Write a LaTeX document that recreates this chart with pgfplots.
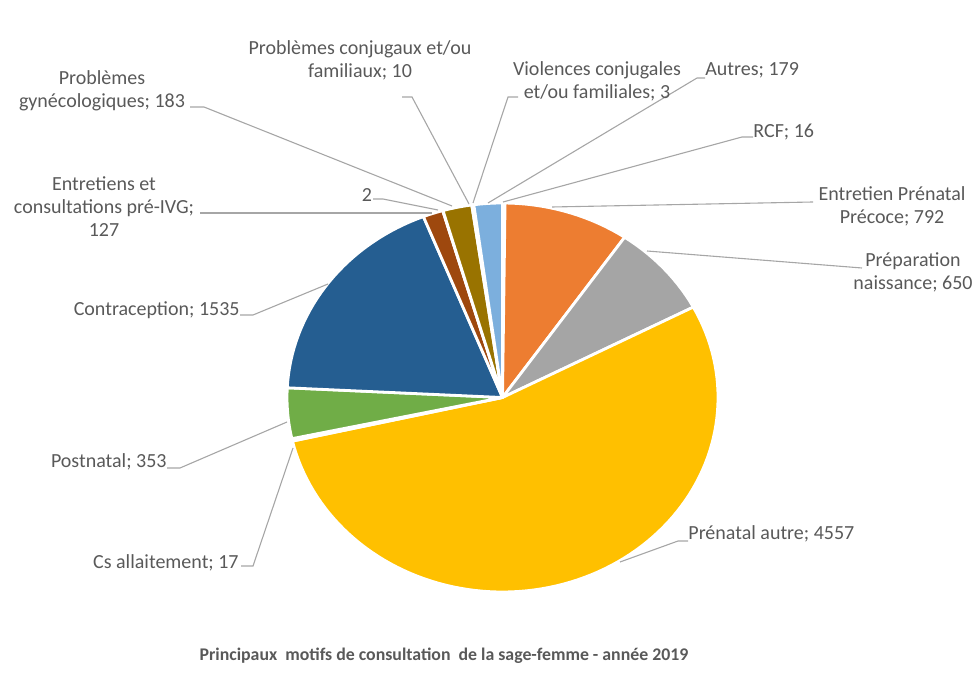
\documentclass[border=0pt]{standalone}
\usepackage{pgfplots}
\pgfplotsset{compat=1.18}
\usepackage{fontspec}
\setmainfont{Carlito}
\definecolor{cRCF}{HTML}{5B9BD5}
\definecolor{cEPP}{HTML}{ED7D31}
\definecolor{cPrep}{HTML}{A5A5A5}
\definecolor{cPA}{HTML}{FFC000}
\definecolor{cCs}{HTML}{4472C4}
\definecolor{cPost}{HTML}{70AD47}
\definecolor{cContra}{HTML}{255E91}
\definecolor{cIVG}{HTML}{9E480E}
\definecolor{cTwo}{HTML}{636363}
\definecolor{cGyn}{HTML}{997300}
\definecolor{cConj}{HTML}{264478}
\definecolor{cViol}{HTML}{43682B}
\definecolor{cAutres}{HTML}{7CAFDD}
\definecolor{txt}{HTML}{595959}
\definecolor{lead}{HTML}{A6A6A6}
% values (RCF first: Excel starts at 12 o'clock, clockwise)
\def\vals{16/cRCF,792/cEPP,650/cPrep,4557/cPA,17/cCs,353/cPost,1535/cContra,127/cIVG,2/cTwo,183/cGyn,10/cConj,3/cViol,179/cAutres}
\gdef\total{0}
\foreach \v/\col in \vals {\pgfmathsetmacro\tmp{\total+\v}\global\let\total\tmp}
\begin{document}
\begin{tikzpicture}[
  lbl/.style={text=txt, font=\fontsize{10}{11.5}\selectfont, inner sep=0pt},
  ld/.style={draw=lead, line width=0.55pt},
]
\begin{axis}[
  width=489pt, height=349.5pt, scale only axis,
  xmin=0, xmax=978, ymin=0, ymax=699, y dir=reverse,
  axis lines=none, ticks=none, clip=false,
]
\path (axis cs:0,0) rectangle (axis cs:978,699);
\gdef\cum{0}
\foreach \v/\col in \vals {
  \pgfmathsetmacro\a{\cum/\total*360}
  \pgfmathsetmacro\b{(\cum+\v)/\total*360}
  \pgfmathtruncatemacro\n{max(2,(\b-\a)/2+2)}
  \edef\temp{\noexpand\addplot[fill=\col, draw=white, line width=1.4pt, line join=round, domain=\a:\b, samples=\n]
     ({502.5+215.5*sin(x)},{397.5-194.5*cos(x)}) -- (axis cs:502.5,397.5) -- cycle;}
  \temp
  \pgfmathsetmacro\tmp{\cum+\v}\global\let\cum\tmp
}
% leader lines
\draw[ld] (axis cs:190,107) -- (axis cs:204,107) -- (axis cs:452,206);
\draw[ld] (axis cs:200,213) -- (axis cs:432,213);
\draw[ld] (axis cs:373,199) -- (axis cs:383,199) -- (axis cs:438,210);
\draw[ld] (axis cs:402,97) -- (axis cs:412,97) -- (axis cs:469,204);
\draw[ld] (axis cs:518,97) -- (axis cs:508,97) -- (axis cs:473,203);
\draw[ld] (axis cs:705,78) -- (axis cs:697,78) -- (axis cs:488,203);
\draw[ld] (axis cs:753,137) -- (axis cs:742,137) -- (axis cs:503,202);
\draw[ld] (axis cs:813,202) -- (axis cs:552,207);
\draw[ld] (axis cs:862,268) -- (axis cs:647,251);
\draw[ld] (axis cs:688,541) -- (axis cs:678,541) -- (axis cs:620,562);
\draw[ld] (axis cs:240,315) -- (axis cs:253,315) -- (axis cs:328,284);
\draw[ld] (axis cs:167,468) -- (axis cs:180,468) -- (axis cs:287,422);
\draw[ld] (axis cs:241,566) -- (axis cs:253,566) -- (axis cs:293,448);
% labels
\node[lbl, align=center] at (axis cs:102,90.5) {Problèmes\\gynécologiques; 183};
\node[lbl, align=center] at (axis cs:104,207) {Entretiens et\\consultations pré-IVG;\\127};
\node[lbl] at (axis cs:367,195) {2};
\node[lbl, align=center] at (axis cs:360,60) {Problèmes conjugaux et/ou\\familiaux; 10};
\node[lbl, align=center] at (axis cs:597,81) {Violences conjugales\\et/ou familiales; 3};
\node[lbl, anchor=west] at (axis cs:705,70) {Autres; 179};
\node[lbl, anchor=west] at (axis cs:753,132) {RCF; 16};
\node[lbl, align=center] at (axis cs:892,206) {Entretien Prénatal\\Précoce; 792};
\node[lbl, align=center] at (axis cs:913,272) {Préparation\\naissance; 650};
\node[lbl, anchor=west] at (axis cs:688,534) {Prénatal autre; 4557};
\node[lbl, anchor=east] at (axis cs:240,310) {Contraception; 1535};
\node[lbl, anchor=east] at (axis cs:167,462) {Postnatal; 353};
\node[lbl, anchor=east] at (axis cs:239,563) {Cs allaitement; 17};
\node[text=txt, font=\bfseries\fontsize{8.9}{10}\selectfont, inner sep=0pt] at (axis cs:444,656) {Principaux\ \ motifs de consultation\ \ de la sage-femme - année 2019};
\end{axis}
\end{tikzpicture}
\end{document}
